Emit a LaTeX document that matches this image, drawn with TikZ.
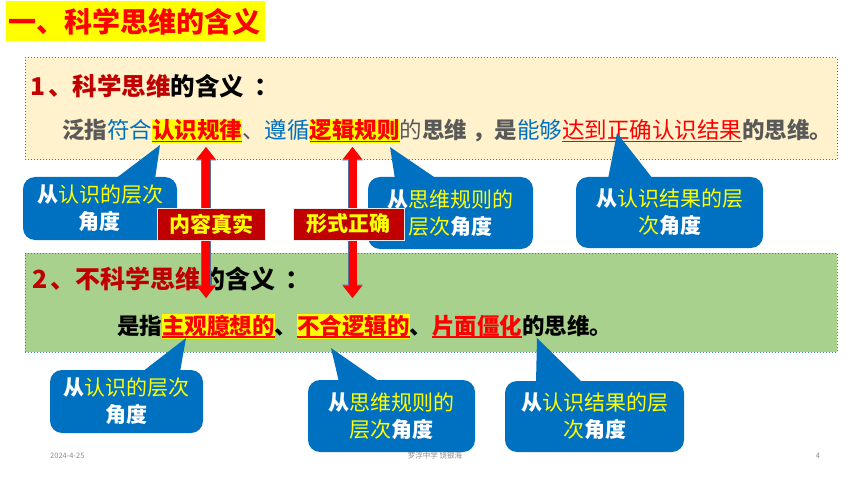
\documentclass[tikz,border=0pt]{standalone}
\usepackage{fontspec}
\setmainfont{Noto Sans CJK SC}
\usetikzlibrary{arrows.meta}
\definecolor{darkred}{HTML}{C00000}
\definecolor{tblue}{HTML}{0070C0}
\definecolor{grayfive}{HTML}{595959}
\definecolor{boxone}{HTML}{FFF2CC}
\definecolor{boxtwo}{HTML}{A9D18E}
\definecolor{callblue}{HTML}{0070C0}
\definecolor{footgray}{HTML}{8C8C8C}
\definecolor{arrowedge}{HTML}{5B6E9B}
\definecolor{hlyellow}{HTML}{FFFF00}
\definecolor{purered}{HTML}{FF0000}
\definecolor{borderone}{HTML}{2E75B6}
\definecolor{bordertwo}{HTML}{3C8C8C}
\newcommand{\setfs}[1]{\fontsize{#1}{#1}\selectfont}
\newcommand{\ulr}[1]{\setbox0\hbox{#1}\rlap{\rule[-0.16em]{\wd0}{1.4pt}}\box0}
\newcommand{\hlu}[1]{{\setlength{\fboxsep}{0pt}\colorbox{hlyellow}{\rule[-0.2em]{0pt}{1.08em}\ulr{#1}}}}
\newcommand{\cw}[1]{{\color{white}\bfseries #1}}
\newcommand{\cy}[1]{{\color{hlyellow}#1}}
\tikzset{
  callout/.style={fill=callblue, rounded corners=12pt, inner sep=0pt, align=center,
    font=\fontsize{21}{27}\selectfont},
  pointer/.style={fill=callblue},
  lab/.style={fill=darkred, draw=white!85!gray, line width=0.8pt, text=hlyellow,
    font=\setfs{21}\bfseries, inner sep=0pt, minimum height=32pt},
  txt/.style={anchor=base west, inner sep=0pt},
  footer/.style={inner sep=0pt, text=footgray, font=\setfs{7.5}},
  dblout/.style={draw=arrowedge, line width=9.4pt,
    {Triangle[width=20pt,length=13.4pt]}-{Triangle[width=20pt,length=13.4pt]}},
  dblin/.style={draw=purered, line width=8pt,
    {Triangle[width=17.6pt,length=11.8pt]}-{Triangle[width=17.6pt,length=11.8pt]}},
}
\begin{document}
\begin{tikzpicture}[x=1pt,y=-1pt]
\useasboundingbox (0,0) rectangle (860,484);
\fill[white] (0,0) rectangle (860,484);
% title
\node[fill=hlyellow, minimum width=259pt, minimum height=40pt, inner sep=0pt] (titlebg) at (135.5,21.5) {};
\node[txt, text=purered, font=\setfs{28}\bfseries] (title) at (8,32.5) {一、科学思维的含义};
% boxes
\node[fill=boxone, draw=borderone, dotted, line width=1pt, minimum width=812pt, minimum height=102pt, inner sep=0pt] (box1) at (431,109) {};
\node[fill=boxtwo, draw=bordertwo, dotted, line width=1pt, minimum width=812pt, minimum height=99pt, inner sep=0pt] (box2) at (431,302.5) {};
% box 1 text
\node[txt, font=\setfs{24.5}\bfseries] (b1l1) at (30,95.5) {{\color{darkred}1\kern3pt、科学思维}的含义\kern10pt：};
\node[txt, font=\setfs{22.5}] (b1l2) at (62,138.5) {{\color{grayfive}\bfseries 泛指}{\color{tblue}符合}{\color{purered}\bfseries\hlu{认识规律}}{\color{grayfive}、}{\color{tblue}遵循}{\color{purered}\bfseries\hlu{逻辑规则}}{\color{grayfive}的}{\color{grayfive}\bfseries 思维\kern5pt，是}{\color{tblue}能够}{\color{purered}\ulr{达到正确认识结果}}{\color{grayfive}\bfseries 的思维。}};
% box 2 text
\node[txt, font=\setfs{25}\bfseries] (b2l1) at (32,288.5) {{\color{darkred}2\kern3pt、不科学思维}的含义\kern10pt：};
\node[txt, font=\setfs{22.5}\bfseries] (b2l2) at (117,334) {是指{\color{purered}\hlu{主观臆想的}}、{\color{purered}\hlu{不合逻辑的}}、{\color{purered}\ulr{片面僵化}}的思维。};
% callouts top
\coordinate (t1) at (160,145);
\coordinate (t2) at (390,147);
\coordinate (t3) at (617,133);
\coordinate (t4) at (186,338);
\coordinate (t5) at (331,348);
\coordinate (t6) at (537,338);
\fill[pointer] (115,179) -- (t1) -- (155,179) -- cycle;
\node[callout, minimum width=154pt, minimum height=63pt] (c1) at (100,208.5)
  {\cw{从}\cy{认识的层次}\\\cw{角度}};
\fill[pointer] (395,179) -- (t2) -- (437,179) -- cycle;
\node[callout, minimum width=165pt, minimum height=72pt] (c2) at (450.5,213)
  {\cw{从}\cy{思维规则的}\\\cy{层次}\cw{角度}};
\fill[pointer] (608,179) -- (t3) -- (653,179) -- cycle;
\node[callout, minimum width=187pt, minimum height=71pt] (c3) at (669.5,212.5)
  {\cw{从}\cy{认识结果的层}\\\cy{次}\cw{角度}};
% callouts bottom
\fill[pointer] (142,372) -- (t4) -- (180,372) -- cycle;
\node[callout, minimum width=153pt, minimum height=63pt] (c4) at (126.5,401.5)
  {\cw{从}\cy{认识的层次}\\\cw{角度}};
\fill[pointer] (339,382) -- (t5) -- (380,382) -- cycle;
\node[callout, minimum width=167pt, minimum height=72pt] (c5) at (391.5,416)
  {\cw{从}\cy{思维规则的}\\\cy{层次}\cw{角度}};
\fill[pointer] (536,383) -- (t6) -- (583,383) -- cycle;
\node[callout, minimum width=179pt, minimum height=71pt] (c6) at (594.5,416.5)
  {\cw{从}\cy{认识结果的层}\\\cy{次}\cw{角度}};
% double arrows
\coordinate (a1t) at (206,147);
\coordinate (a1b) at (206,298);
\coordinate (a2t) at (352.5,147);
\coordinate (a2b) at (352.5,298);
\draw[dblout] (a1t) -- (a1b);
\draw[dblin] (a1t) -- (a1b);
\draw[dblout] (a2t) -- (a2b);
\draw[dblin] (a2t) -- (a2b);
% labels
\node[lab, minimum width=108pt] (lab1) at (211,224) {内容真实};
\node[lab, minimum width=111pt] (lab2) at (348.5,224) {形式正确};
% footer
\node[footer, anchor=west] (fdate) at (50,456) {2024-4-25};
\node[footer] (fname) at (435,456) {罗浮中学 饶银海};
\node[footer] (fpage) at (818,456) {4};
\end{tikzpicture}
\end{document}
